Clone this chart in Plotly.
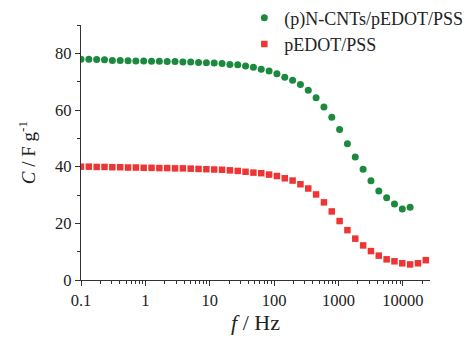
import plotly.graph_objects as go

freq = [0.1, 0.1323, 0.1751, 0.2318, 0.3068, 0.4060, 0.5373, 0.7111, 0.9410,
        1.245, 1.648, 2.181, 2.887, 3.821, 5.056, 6.692, 8.857, 11.72, 15.51,
        20.53, 27.16, 35.95, 47.58, 62.97, 83.34, 110.3, 146.0, 193.2, 255.6,
        338.3, 447.7, 592.6, 784.3, 1038, 1373, 1818, 2406, 3184, 4214, 5577,
        7379, 9766, 12925, 17106, 22640]

cnt_cap = [77.9, 77.9, 77.8, 77.7, 77.5, 77.5, 77.4, 77.3, 77.3, 77.2, 77.2,
           77.1, 77.1, 76.9, 76.9, 76.8, 76.7, 76.6, 76.4, 76.1, 76.0, 75.5,
           75.1, 74.4, 73.8, 72.8, 71.6, 70.5, 69.0, 67.0, 64.3, 61.1, 57.4,
           53.1, 48.1, 43.4, 39.1, 35.0, 31.4, 29.0, 26.8, 25.1, 25.7]

pedot_cap = [40.0, 40.0, 39.9, 39.9, 39.8, 39.8, 39.7, 39.7, 39.6, 39.6, 39.5,
             39.5, 39.4, 39.4, 39.3, 39.2, 39.1, 39.0, 38.9, 38.7, 38.5, 38.2,
             37.9, 37.7, 37.2, 36.7, 35.9, 35.1, 33.8, 32.3, 30.2, 27.4, 24.2,
             20.8, 17.6, 14.6, 12.2, 10.2, 8.6, 7.3, 6.6, 5.9, 5.5, 5.9, 7.0]

x_tickvals = [0.1, 1, 10, 100, 1000, 10000]
x_ticktext = ["0.1", "1", "10", "100", "1000", "10000"]
x_minor = [m * d for d in [0.1, 1, 10, 100, 1000, 10000] for m in range(2, 10)]
y_tickvals = [0, 20, 40, 60, 80]

green = "#1b8a3e"
red = "#ef3434"
font_family = "Liberation Serif, Times New Roman, serif"

fig = go.Figure()
fig.add_trace(go.Scatter(
    x=freq[:len(cnt_cap)], y=cnt_cap, mode="markers",
    name="(p)N-CNTs/pEDOT/PSS",
    marker=dict(symbol="circle", size=7, color=green),
))
fig.add_trace(go.Scatter(
    x=freq[:len(pedot_cap)], y=pedot_cap, mode="markers",
    name="pEDOT/PSS",
    marker=dict(symbol="square", size=6.5, color=red),
))

axis_common = dict(
    showline=True, linecolor="#333333", linewidth=1.3, mirror=False,
    showgrid=False, zeroline=False, ticks="outside", ticklen=5,
    tickwidth=1.2, tickcolor="#333333",
    tickfont=dict(family=font_family, size=16.5, color="#222222"),
)

fig.update_xaxes(
    type="log", range=[-1.0, 4.42],
    tickvals=x_tickvals, ticktext=x_ticktext,
    minor=dict(tickvals=x_minor, ticks="outside", ticklen=3, tickwidth=1,
               tickcolor="#333333"),
    title=dict(text="<i>f</i> / Hz", font=dict(family=font_family, size=22,
                                                color="#222222"), standoff=5),
    automargin=False,
    **axis_common,
)
fig.update_yaxes(
    range=[0, 90], tickvals=y_tickvals,
    minor=dict(dtick=10, ticks="outside", ticklen=3, tickwidth=1,
               tickcolor="#333333"),
    title=dict(text="<i>C</i> / F g<sup>-1</sup>",
               font=dict(family=font_family, size=19, color="#222222"),
               standoff=14),
    automargin=False,
    **axis_common,
)

fig.update_layout(
    width=465, height=340,
    margin=dict(l=81, r=35, t=25, b=60, autoexpand=False),
    paper_bgcolor="white", plot_bgcolor="white",
    showlegend=True,
    legend=dict(
        x=0.468, y=1.1, xanchor="left", yanchor="top",
        font=dict(family=font_family, size=18, color="#222222"),
        bgcolor="rgba(0,0,0,0)", itemwidth=30, tracegroupgap=0,
    ),
)

fig.write_html("out.html",
               config={"displayModeBar": False},
               post_script="document.body.style.margin='0px';")
